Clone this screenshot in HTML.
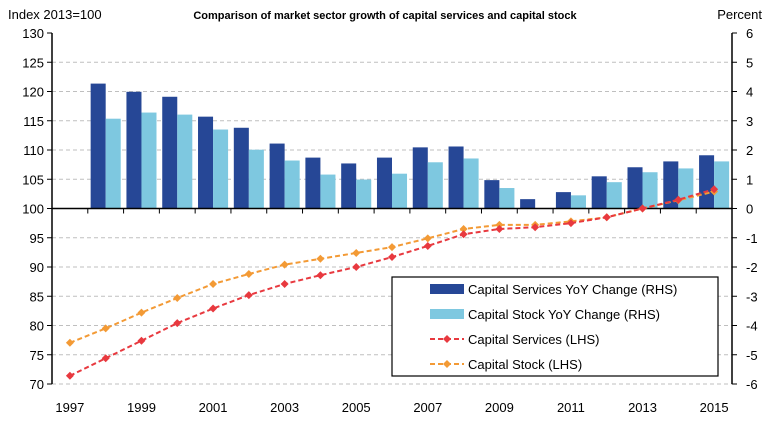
<!DOCTYPE html>
<html><head><meta charset="utf-8"><style>
body{margin:0;background:#fff}
svg{display:block;font-family:"Liberation Sans",sans-serif}
</style></head><body>
<svg id="chart" width="771" height="423">
<text x="8" y="19" font-size="13">Index 2013=100</text>
<text x="385" y="19" font-size="11" font-weight="bold" text-anchor="middle">Comparison of market sector growth of capital services and capital stock</text>
<text x="762" y="19" font-size="13" text-anchor="end">Percent</text>
<g id="grid"></g><g id="bars"></g><g id="axes"></g><g id="lines"></g>
<g>
<rect x="392" y="277" width="326" height="99" fill="#fff" stroke="#000" stroke-width="1.2"/>
<rect x="430" y="284" width="34" height="10" fill="#264796"/>
<text x="468" y="294" font-size="13">Capital Services YoY Change (RHS)</text>
<rect x="430" y="309" width="34" height="10" fill="#7ec8e0"/>
<text x="468" y="319" font-size="13">Capital Stock YoY Change (RHS)</text>
<line x1="430" y1="339" x2="464" y2="339" stroke="#e8393f" stroke-width="2" stroke-dasharray="5,3"/>
<path d="M447 335l4 4-4 4-4-4z" fill="#e8393f"/>
<text x="468" y="344" font-size="13">Capital Services (LHS)</text>
<line x1="430" y1="364" x2="464" y2="364" stroke="#f39a35" stroke-width="2" stroke-dasharray="5,3"/>
<path d="M447 360l4 4-4 4-4-4z" fill="#f39a35"/>
<text x="468" y="369" font-size="13">Capital Stock (LHS)</text>
</g>
</svg>
<script>
const years=[1997,1998,1999,2000,2001,2002,2003,2004,2005,2006,2007,2008,2009,2010,2011,2012,2013,2014,2015];
const servicesYoY=[null,4.27,3.99,3.82,3.14,2.76,2.22,1.74,1.54,1.74,2.09,2.12,0.97,0.32,0.56,1.1,1.41,1.61,1.82];
const stockYoY=[null,3.07,3.28,3.21,2.70,2.01,1.64,1.16,0.99,1.19,1.58,1.71,0.70,0,0.45,0.9,1.24,1.37,1.61];
const servicesIdx=[71.4,74.4,77.4,80.4,82.9,85.2,87.1,88.6,90.0,91.7,93.6,95.6,96.5,96.8,97.5,98.5,100,101.5,103.3];
const stockIdx=[77.05,79.5,82.2,84.7,87.1,88.8,90.4,91.4,92.4,93.4,94.9,96.5,97.2,97.2,97.8,98.5,100,101.4,102.9];
const leftTicks=[70,75,80,85,90,95,100,105,110,115,120,125,130];
const rightTicks=[-6,-5,-4,-3,-2,-1,0,1,2,3,4,5,6];
const xLabels=[1997,1999,2001,2003,2005,2007,2009,2011,2013,2015];
const NS="http://www.w3.org/2000/svg";
const L=52,R=732,T=33,B=384;
const bw=(R-L)/years.length;
const x=i=>L+bw*(i+0.5);
const yl=v=>B-(v-70)/60*(B-T);
const yr=v=>B-(v+6)/12*(B-T);
function mk(tag,attrs,parent){const e=document.createElementNS(NS,tag);for(const k in attrs)e.setAttribute(k,attrs[k]);document.getElementById(parent).appendChild(e);return e;}
leftTicks.forEach((v,i)=>{
 if(v!==100&&v!==130){const g=mk('line',{x1:L,x2:R,y1:yl(v),y2:yl(v),stroke:'#bfbfbf','stroke-dasharray':'4,3'},'grid');
 
 }
 const t=mk('text',{x:L-8,y:yl(v)+5,'font-size':13,'text-anchor':'end'},'axes');t.textContent=v;
 
 
 mk('line',{x1:L-5,x2:L,y1:yl(v),y2:yl(v),stroke:'#000'},'axes');
});
rightTicks.forEach(v=>{
 const t=mk('text',{x:R+14,y:yr(v)+5,'font-size':13},'axes');t.textContent=v;
 
 
 mk('line',{x1:R,x2:R+5,y1:yr(v),y2:yr(v),stroke:'#000'},'axes');
});
years.forEach((yv,i)=>{
 const w=bw*0.42;
 if(servicesYoY[i]!=null){
  const v=servicesYoY[i];const b=mk('rect',{x:x(i)-w,y:Math.min(yr(v),yr(0)),width:w,height:Math.abs(yr(0)-yr(v)),fill:'#264796'},'bars');
  
  
 }
 if(stockYoY[i]!=null){
  const v=stockYoY[i];const b=mk('rect',{x:x(i),y:Math.min(yr(v),yr(0)),width:w,height:Math.abs(yr(0)-yr(v)),fill:'#7ec8e0'},'bars');
  
  
 }
 if(i>0) mk('line',{x1:L+bw*i,x2:L+bw*i,y1:yr(0),y2:yr(0)+5,stroke:'#000'},'axes');
});
xLabels.forEach(yv=>{const i=years.indexOf(yv);const t=mk('text',{x:x(i),y:412,'font-size':13,'text-anchor':'middle'},'axes');t.textContent=yv;
 
 });
mk('line',{x1:L,x2:L,y1:T,y2:B,stroke:'#000','stroke-width':1.5},'axes');
mk('line',{x1:R,x2:R,y1:T,y2:B,stroke:'#000','stroke-width':1.5},'axes');
mk('line',{x1:L,x2:R,y1:yr(0),y2:yr(0),stroke:'#000','stroke-width':1.5},'axes');
function series(data,color,name){
 const p=mk('polyline',{points:data.map((v,i)=>x(i)+','+yl(v)).join(' '),fill:'none',stroke:color,'stroke-width':2,'stroke-dasharray':'5,3'},'lines');
 
 
 data.forEach((v,i)=>{const m=mk('path',{d:`M${x(i)} ${yl(v)-4}l4 4-4 4-4-4z`,fill:color},'lines');
  
  });
}
series(stockIdx,'#f39a35','stock-index');
series(servicesIdx,'#e8393f','services-index');
</script>
</body></html>
